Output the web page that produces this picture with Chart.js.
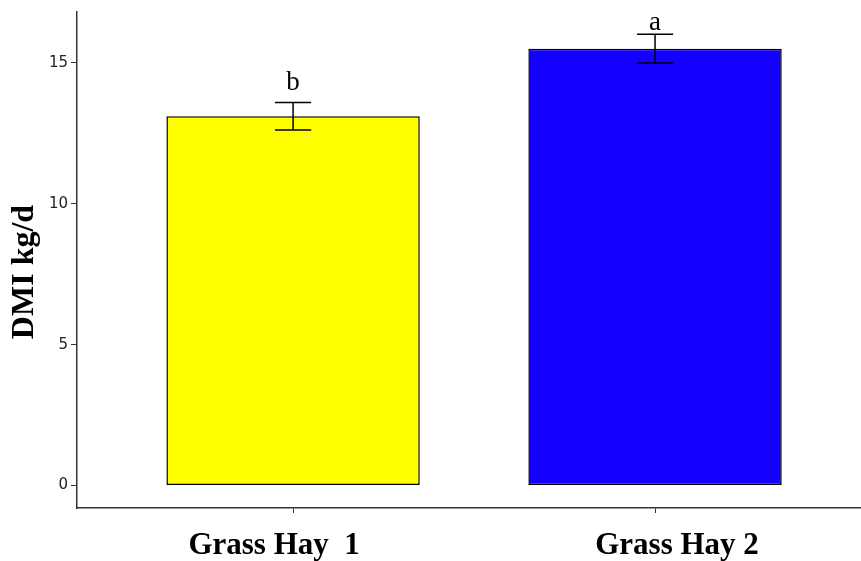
<!DOCTYPE html>
<html>
<head>
<meta charset="utf-8">
<script src="https://cdn.jsdelivr.net/npm/chart.js@4/dist/chart.umd.min.js"></script>
<style>
  html, body { margin: 0; padding: 0; background: #fff; overflow: hidden; }
  #wrap { width: 861px; height: 561px; }
</style>
</head>
<body>
<div id="wrap"><canvas id="c" width="861" height="561"></canvas></div>
<script>
// Dry matter intake by hay type (mean ± SE)
const categories = ['Grass Hay  1', 'Grass Hay 2'];
const positions = [1, 2];
const dmiMeans = [13.1, 15.5];
const dmiSE = [0.49, 0.51];
const groupLetters = ['b', 'a'];
const letterHeights = [14.05, 16.15];
const yTicks = [0, 5, 10, 15];
const barColors = ['#FFFF00', '#1400FF'];
const yTitle = 'DMI kg/d';

const points = positions.map((p, i) => ({ x: p, y: dmiMeans[i] }));

// Error bars, significance letters, category labels and the y-axis title
const annotatePlugin = {
  id: 'annotate',
  afterDatasetsDraw(chart, args, opts) {
    const { ctx, scales: { x, y } } = chart;
    ctx.save();
    ctx.strokeStyle = '#000';
    ctx.lineWidth = 1.5;
    positions.forEach((p, i) => {
      const cx = x.getPixelForValue(p);
      const xl = x.getPixelForValue(p - 0.05);
      const xr = x.getPixelForValue(p + 0.05);
      const yt = y.getPixelForValue(dmiMeans[i] + dmiSE[i]);
      const yb = y.getPixelForValue(dmiMeans[i] - dmiSE[i]);
      ctx.beginPath();
      ctx.moveTo(cx, yt); ctx.lineTo(cx, yb);
      ctx.moveTo(xl, yt); ctx.lineTo(xr, yt);
      ctx.moveTo(xl, yb); ctx.lineTo(xr, yb);
      ctx.stroke();
    });
    ctx.fillStyle = '#000';
    ctx.font = '27px "Liberation Serif"';
    ctx.textAlign = 'center';
    ctx.textBaseline = 'alphabetic';
    positions.forEach((p, i) => {
      ctx.fillText(groupLetters[i], x.getPixelForValue(p), y.getPixelForValue(letterHeights[i]));
    });

    // category labels under the x axis
    ctx.font = 'bold 31px "Liberation Serif"';
    positions.forEach((p, i) => {
      ctx.fillText(categories[i], x.getPixelForValue(p) + opts.labelShift[i], x.bottom - 7);
    });

    // rotated y-axis title
    ctx.font = 'bold 32px "Liberation Serif"';
    ctx.translate(33, (y.top + y.bottom) / 2 + 12);
    ctx.rotate(-Math.PI / 2);
    ctx.fillText(yTitle, 0, 0);
    ctx.restore();
  }
};

new Chart(document.getElementById('c'), {
  type: 'bar',
  data: {
    datasets: [{
      data: points,
      backgroundColor: barColors,
      borderColor: '#000',
      borderWidth: 1.5,
      borderSkipped: false,
      barPercentage: 0.7,
      categoryPercentage: 1.0
    }]
  },
  options: {
    responsive: false,
    animation: false,
    devicePixelRatio: 1,
    layout: { padding: { top: 12, right: 0, bottom: 0, left: 0 } },
    plugins: {
      legend: { display: false },
      tooltip: { enabled: false },
      annotate: { labelShift: [-19, 22] }
    },
    scales: {
      x: {
        type: 'linear',
        offset: false,
        min: 0.403,
        max: 2.569,
        grid: { display: true, drawOnChartArea: false, drawTicks: true, tickLength: 5, color: '#333', offset: false },
        border: { display: true, color: '#333', width: 1.5 },
        afterBuildTicks(scale) { scale.ticks = positions.map(v => ({ value: v })); },
        afterFit(scale) { scale.height = 53; },
        ticks: { display: false, autoSkip: false }
      },
      y: {
        min: -0.795,
        max: 16.8,
        grid: { display: true, drawOnChartArea: false, drawTicks: true, tickLength: 6, color: '#333' },
        border: { display: true, color: '#333', width: 1.5 },
        afterBuildTicks(scale) { scale.ticks = yTicks.map(v => ({ value: v })); },
        afterFit(scale) { scale.width = 77; },
        ticks: {
          padding: 3,
          color: '#222',
          font: { family: 'DejaVu Sans', size: 15 }
        }
      }
    }
  },
  plugins: [annotatePlugin]
});
</script>
</body>
</html>
